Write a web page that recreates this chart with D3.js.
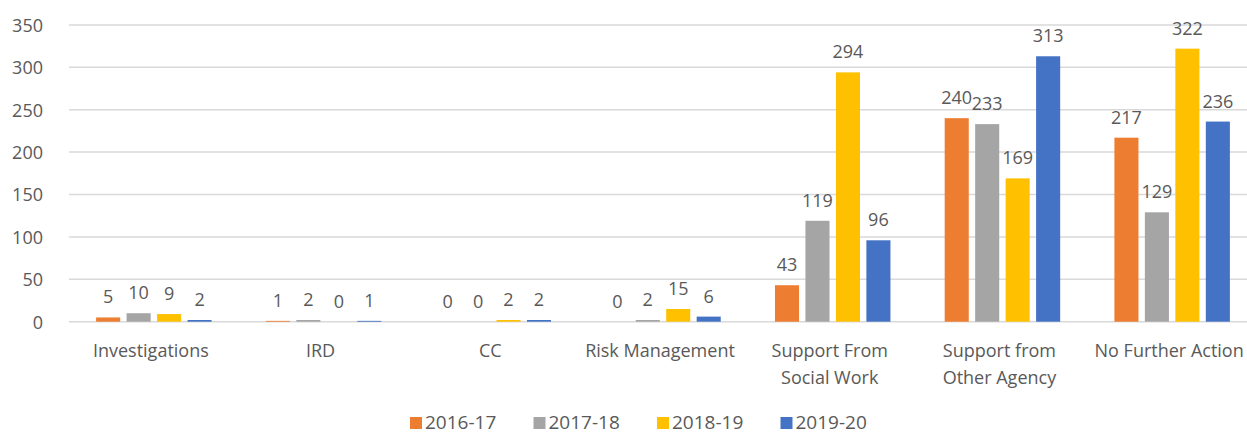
<!DOCTYPE html>
<html>
<head>
<meta charset="utf-8">
<script src="https://cdn.jsdelivr.net/npm/d3@7"></script>
<style>
  body { margin: 0; background: #fff; }
  text { font-family: "Open Sans", sans-serif; fill: #595959; }
</style>
</head>
<body>
<div id="chart"></div>
<script>
// data
var categories = ["Investigations", "IRD", "CC", "Risk Management",
  "Support From\nSocial Work", "Support from\nOther Agency", "No Further Action"];
var seriesNames = ["2016-17", "2017-18", "2018-19", "2019-20"];
var values2016 = [5, 1, 0, 0, 43, 240, 217];
var values2017 = [10, 2, 0, 2, 119, 233, 129];
var values2018 = [9, 0, 2, 15, 294, 169, 322];
var values2019 = [2, 1, 2, 6, 96, 313, 236];
var yTicks = [0, 50, 100, 150, 200, 250, 300, 350];
var colors = ["#ED7D31", "#A5A5A5", "#FFC000", "#4472C4"];

var allValues = [values2016, values2017, values2018, values2019];

// svg sizes
var svgWidth = 1247;
var svgHeight = 435;

var svg = d3.select("#chart")
  .append("svg")
  .attr("width", svgWidth)
  .attr("height", svgHeight);

// plot area (right side runs off the picture like the original)
var plotLeft = 69;
var plotRight = 1257;
var plotTop = 24.9;
var plotBottom = 321.7;

var x0 = d3.scaleBand()
  .domain(categories)
  .range([plotLeft, plotRight]);

var x1 = d3.scaleBand()
  .domain(seriesNames)
  .range([0, x0.bandwidth()])
  .paddingInner(0.21)
  .paddingOuter(0.89);

var y = d3.scaleLinear()
  .domain([0, 350])
  .range([plotBottom, plotTop]);

// gridlines
svg.append("g")
  .selectAll("line")
  .data(yTicks)
  .enter()
  .append("line")
  .attr("x1", plotLeft)
  .attr("x2", svgWidth)
  .attr("y1", d => y(d))
  .attr("y2", d => y(d))
  .attr("stroke", "#D9D9D9")
  .attr("stroke-width", 1.5);

// y axis labels
var leftAxis = d3.axisLeft(y).tickValues(yTicks).tickSize(0).tickPadding(0);
var yAxis = svg.append("g")
  .attr("transform", `translate(43, 0)`)
  .call(leftAxis);
yAxis.select(".domain").remove();
yAxis.selectAll("text")
  .style("font-size", "18px")
  .attr("fill", "#595959")
  .attr("dy", "0.35em")
  .attr("font-family", "'Open Sans', sans-serif");

// one table row per category/series
var rows = [];
categories.forEach(function(cat, i) {
  seriesNames.forEach(function(s, j) {
    rows.push({ cat: cat, series: s, value: allValues[j][i], color: colors[j] });
  });
});

// bars
svg.append("g")
  .selectAll("rect")
  .data(rows)
  .enter()
  .append("rect")
  .attr("x", d => x0(d.cat) + x1(d.series))
  .attr("y", d => y(d.value))
  .attr("width", x1.bandwidth())
  .attr("height", d => plotBottom - y(d.value))
  .attr("fill", d => d.color);

// value labels
svg.append("g")
  .selectAll("text")
  .data(rows)
  .enter()
  .append("text")
  .attr("x", d => x0(d.cat) + x1(d.series) + x1.bandwidth() / 2)
  .attr("y", d => y(d.value) - 14)
  .attr("text-anchor", "middle")
  .style("font-size", "18px")
  .text(d => d.value);

// category labels (some on two lines)
var catLabels = svg.append("g")
  .selectAll("text")
  .data(categories)
  .enter()
  .append("text")
  .attr("x", d => x0(d) + x0.bandwidth() / 2 - 3)
  .attr("y", 357)
  .attr("text-anchor", "middle")
  .style("font-size", "18px");

catLabels.each(function(d) {
  var t = d3.select(this);
  d.split("\n").forEach(function(line, k) {
    t.append("tspan")
      .attr("x", t.attr("x"))
      .attr("dy", k === 0 ? 0 : 27)
      .text(line);
  });
});

// legend
var legend = svg.append("g")
  .selectAll("g")
  .data(seriesNames)
  .enter()
  .append("g")
  .attr("transform", (d, i) => `translate(${410 + i * 123.5}, 0)`);

legend.append("rect")
  .attr("x", 0)
  .attr("y", 417)
  .attr("width", 12)
  .attr("height", 12)
  .attr("fill", (d, i) => colors[i]);

legend.append("text")
  .attr("x", 15)
  .attr("y", 429)
  .style("font-size", "19px")
  .text(d => d);
</script>
</body>
</html>
